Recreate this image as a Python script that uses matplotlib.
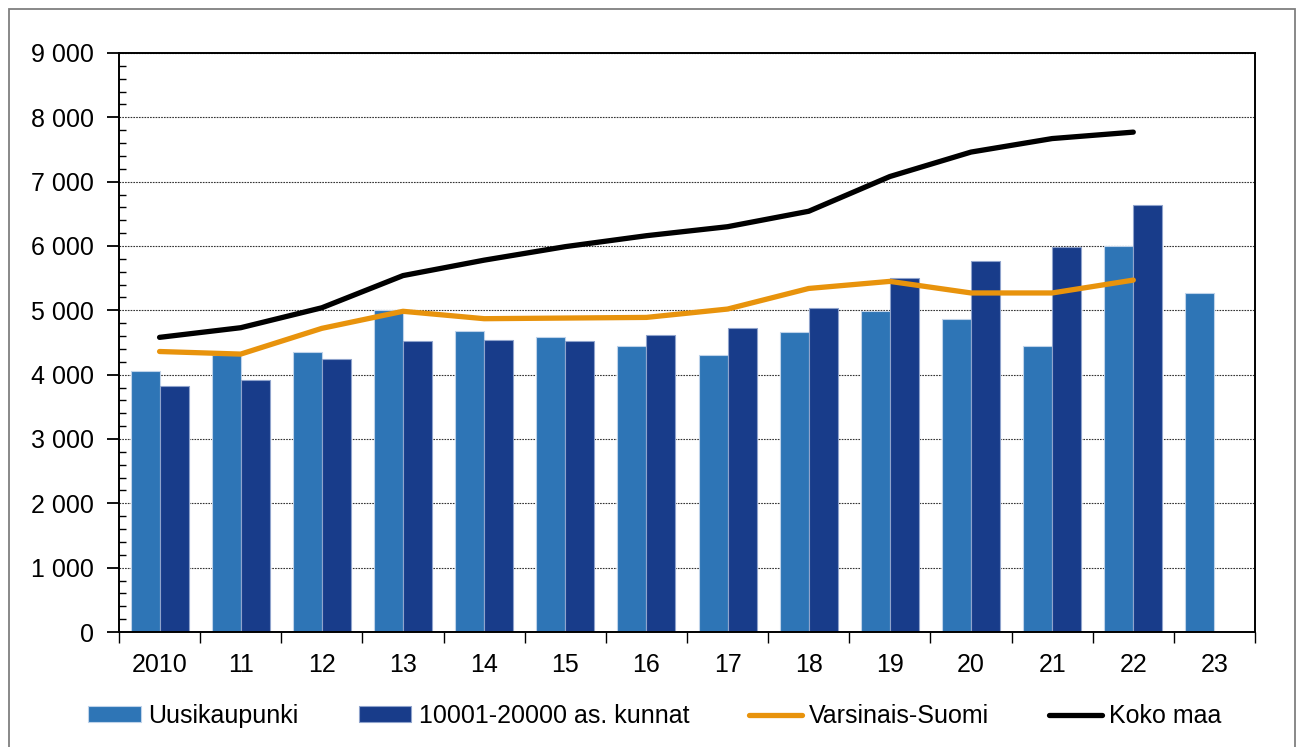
import matplotlib
matplotlib.use("Agg")
import matplotlib.pyplot as plt
import numpy as np
from matplotlib.patches import Rectangle
from matplotlib.ticker import FixedLocator, FuncFormatter

plt.rcParams['font.family'] = ['Liberation Sans', 'DejaVu Sans']

years = ["2010", "11", "12", "13", "14", "15", "16", "17", "18", "19", "20", "21", "22", "23"]
uusikaupunki = [4050, 4300, 4350, 5000, 4680, 4590, 4440, 4310, 4670, 4990, 4870, 4450, 6000, 5270]
kunnat = [3830, 3910, 4250, 4520, 4540, 4530, 4610, 4720, 5030, 5510, 5760, 5990, 6630, np.nan]
varsinais_suomi = [4360, 4320, 4720, 4985, 4870, 4880, 4890, 5020, 5340, 5450, 5270, 5270, 5470]
koko_maa = [4580, 4730, 5040, 5540, 5780, 5990, 6160, 6300, 6540, 7080, 7460, 7670, 7770]

c_light = "#2E75B6"
c_dark = "#183C8A"
c_orange = "#E8930C"
FS = 18

fig = plt.figure(figsize=(12.97, 7.47), dpi=100)
ax = fig.add_axes([119/1297, 1-632/747, (1255-119)/1297, (632-53)/747])

x = np.arange(len(years))
w = 0.357
b1 = ax.bar(x - w/2, uusikaupunki, width=w, color=c_light, edgecolor="#BFD3EA", linewidth=0.8,
            label="Uusikaupunki", zorder=2)
b2 = ax.bar(x + w/2, kunnat, width=w, color=c_dark, edgecolor="#8FA3CC", linewidth=0.8,
            label="10001-20000 as. kunnat", zorder=2)
l1, = ax.plot(np.arange(len(varsinais_suomi)), varsinais_suomi, color=c_orange, lw=3.8,
              solid_capstyle='round', solid_joinstyle='round', label="Varsinais-Suomi", zorder=3)
l2, = ax.plot(np.arange(len(koko_maa)), koko_maa, color="black", lw=3.8, solid_capstyle='round',
              solid_joinstyle='round', label="Koko maa", zorder=4)

ax.set_xlim(-0.5, len(years) - 0.5)
ax.set_ylim(0, 9000)

# y ticks
ax.set_yticks(np.arange(0, 9001, 1000))
ax.yaxis.set_major_formatter(FuncFormatter(lambda v, p: f"{int(v):,}".replace(",", " ")))
ax.set_yticks(np.arange(0, 9001, 200), minor=True)
ax.tick_params(axis='y', which='major', direction='out', length=9, width=1.3, pad=9,
               labelsize=FS)
ax.tick_params(axis='y', which='minor', direction='in', length=5, width=1.0)

# x ticks: labels at centers, tick marks at boundaries
ax.set_xticks(x)
ax.set_xticklabels(years)
ax.xaxis.set_minor_locator(FixedLocator(np.arange(-0.5, len(years), 1.0)))
ax.tick_params(axis='x', which='major', length=0, pad=15, labelsize=FS)
ax.tick_params(axis='x', which='minor', direction='out', length=8, width=1.0)

ax.grid(axis='y', which='major', linestyle=(0, (1.5, 1.0)), color="#333333", linewidth=0.8, zorder=0)
ax.set_axisbelow(True)
for s in ax.spines.values():
    s.set_linewidth(1.4)
    s.set_color("black")

fig.legend([b1, b2, l1, l2], [b1.get_label(), b2.get_label(), l1.get_label(), l2.get_label()],
           loc='center', bbox_to_anchor=(655/1297, 1-716/747), ncol=4,
           frameon=False, fontsize=FS, handlelength=2.1, handletextpad=0.3,
           columnspacing=2.4, handleheight=0.6)

# outer border (bottom edge lies beyond the canvas)
fig.patches.append(Rectangle((9/1297, -10/747), (1295-9)/1297, (747+10-9)/747,
                             transform=fig.transFigure, fill=False, edgecolor="#7F7F7F",
                             linewidth=1.3))

fig.savefig("out.png", dpi=100)
